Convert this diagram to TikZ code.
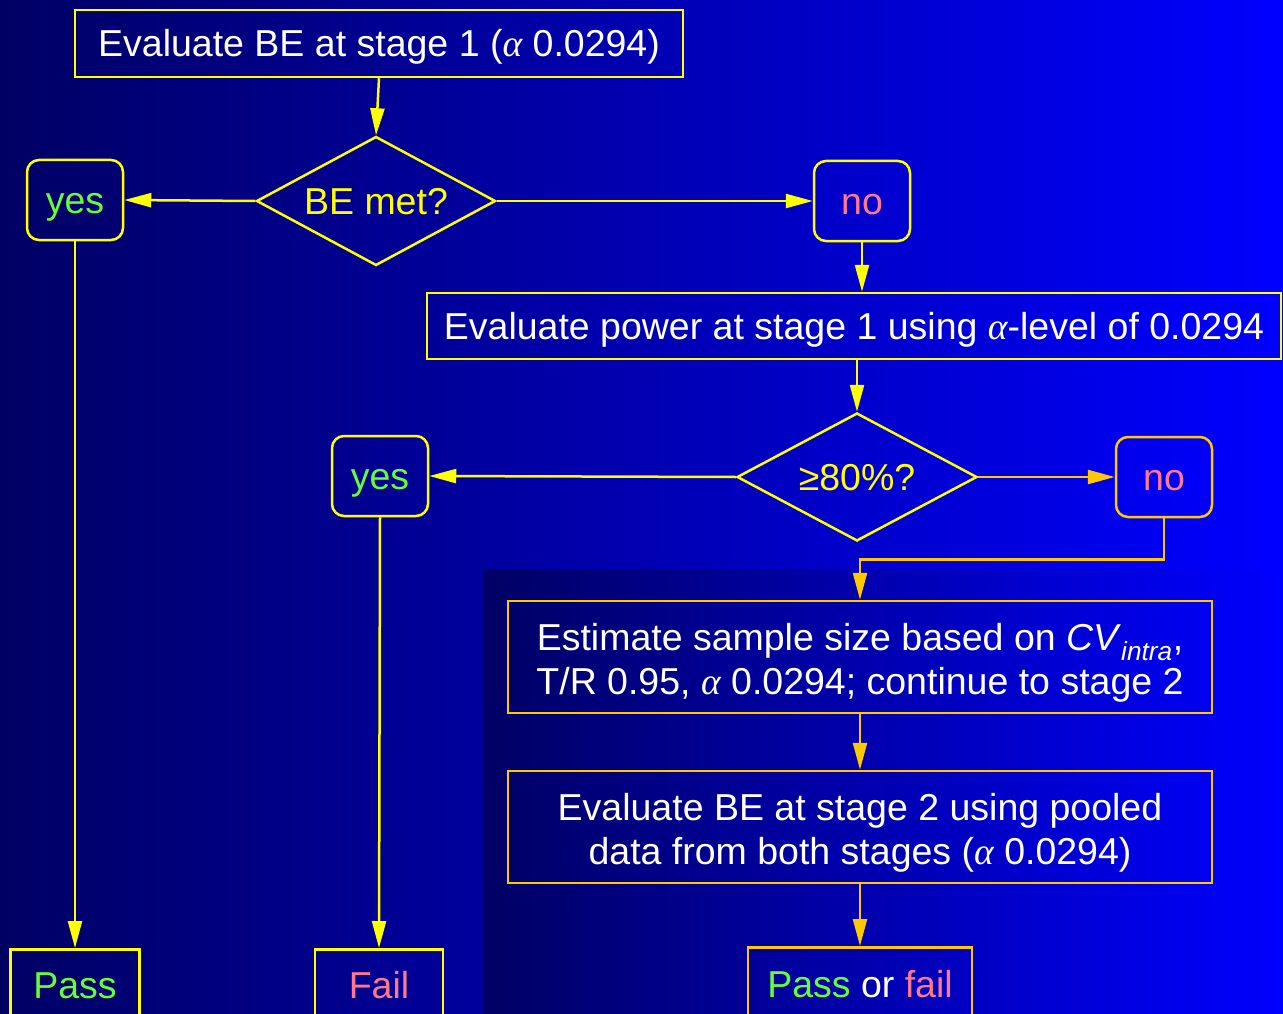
\documentclass[tikz,border=0pt]{standalone}
\usepackage{fontspec}
\setmainfont{Liberation Sans}
\newfontfamily\grk{Liberation Serif}
\newcommand{\alp}{{\grk\itshape α}}
\usetikzlibrary{shapes.geometric,arrows.meta}
\definecolor{bgL}{RGB}{0,0,100}
\definecolor{bgR}{RGB}{0,0,255}
\definecolor{yel}{RGB}{255,255,0}
\definecolor{org}{RGB}{255,200,0}
\definecolor{grn}{RGB}{102,255,51}
\definecolor{pnk}{RGB}{255,120,140}
\tikzset{
  one/.style={text height=27pt, text depth=0pt},
  two/.style={text height=75pt, text depth=0pt},
  box/.style={draw=#1, line width=2.5pt, text=white, inner sep=0pt, align=center},
  box/.default=yel,
  rbox/.style={draw=#1, line width=2.5pt, rounded corners=12pt, minimum width=96pt, minimum height=80pt, inner sep=0pt, one},
  rbox/.default=yel,
  dec/.style={draw=yel, line width=2.5pt, diamond, aspect=1.85, inner sep=0pt, text=yel, one},
  conn/.style={draw=#1, line width=2.5pt, -{Triangle[length=27pt,width=14pt]}, color=#1},
  conn/.default=yel,
}
\begin{document}
\begin{tikzpicture}[x=1pt,y=-1pt,font=\fontsize{37.5}{44}\selectfont]
\shade[left color=bgL,right color=bgR] (0,0) rectangle (1283,1014);
\shade[left color=bgL,right color=bgR] (483,570) rectangle (1283,1014);
\useasboundingbox (0,0) rectangle (1283,1014);
\clip (0,0) rectangle (1283,1014);

\node[box, one, minimum width=608pt, minimum height=67pt] (b1) at (379,43.5) {Evaluate BE at stage 1 (\alp\ 0.0294)};
\node[dec, minimum width=239pt, minimum height=129pt] (d1) at (376,201) {BE met?};
\node[rbox, text=grn] (y1) at (75,200) {yes};
\node[rbox, text=pnk] (n1) at (862,201) {no};
\node[box, one, minimum width=854pt, minimum height=66pt] (b2) at (854,326) {Evaluate power at stage 1 using \alp-level of 0.0294};
\node[dec, minimum width=240pt, minimum height=128pt] (d2) at (857,477) {≥80\%?};
\node[rbox, text=grn] (y2) at (380,476) {yes};
\node[rbox=org, text=pnk] (n2) at (1164,477) {no};
\node[box=org, two, minimum width=704pt, minimum height=112pt] (b3) at (860,657) {Estimate sample size based on \textit{CV}\textsubscript{\itshape intra},\\T/R 0.95, \alp\ 0.0294; continue to stage 2};
\node[box=org, two, minimum width=704pt, minimum height=112pt] (b4) at (860,827) {Evaluate BE at stage 2 using pooled\\data from both stages (\alp\ 0.0294)};
\node[box, one, anchor=north, minimum width=129pt, minimum height=72pt, text=grn] (p) at (75,948) {Pass};
\node[box, one, anchor=north, minimum width=128pt, minimum height=72pt, text=pnk] (f) at (379,948) {Fail};
\node[box=org, one, anchor=north, minimum width=224pt, minimum height=74pt] (pf) at (860,946) {\textcolor{grn}{Pass} or \textcolor{pnk}{fail}};

\draw[conn] (b1.south) -- (d1.north);
\draw[conn] (d1.west) -- (y1.east);
\draw[conn] (d1.east) -- (n1.west);
\draw[conn] (n1.south) -- (n1.south |- b2.north);
\draw[conn] (b2.south -| d2.north) -- (d2.north);
\draw[conn] (d2.west) -- (y2.east);
\draw[conn=org] (d2.east) -- (n2.west);
\draw[conn=org] (n2.south) -- ++(0,41) -| (b3.north);
\draw[conn=org] (b3.south) -- (b4.north);
\draw[conn=org] (b4.south) -- (pf.north);
\draw[conn] (y1.south) -- (p.north);
\draw[conn] (y2.south) -- (f.north);
\end{tikzpicture}
\end{document}
